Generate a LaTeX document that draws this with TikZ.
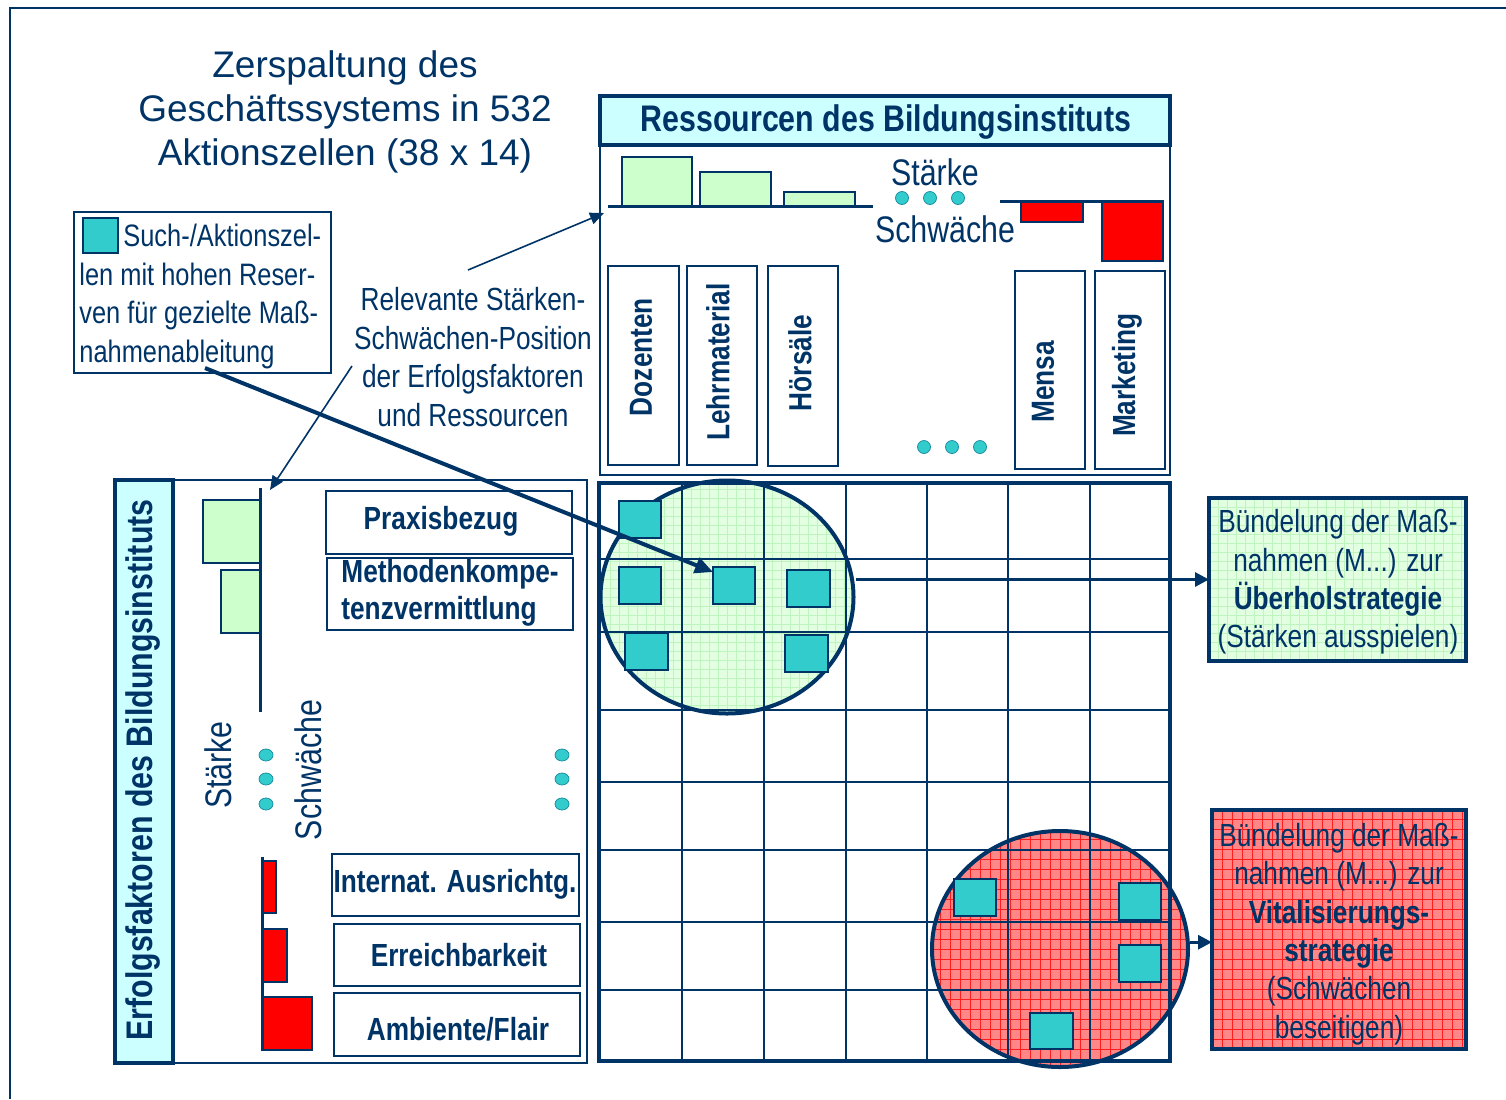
\documentclass[tikz,border=0pt]{standalone}
\usepackage{fontspec}
\setmainfont{Liberation Sans}
\newfontfamily\nf[FakeStretch=0.82]{Liberation Sans}
\usetikzlibrary{arrows.meta,shapes.geometric,fit,calc}
\definecolor{navy}{RGB}{0,51,102}
\definecolor{cyanf}{RGB}{51,204,204}
\definecolor{lgreen}{RGB}{204,255,204}
\definecolor{lcyan}{RGB}{204,255,255}
\definecolor{pgreen}{RGB}{226,255,226}
\definecolor{pgreenl}{RGB}{190,245,190}
\definecolor{pred}{RGB}{255,135,135}
\definecolor{predl}{RGB}{255,30,30}
\newcommand\bgsz{\fontsize{18.5}{22}\selectfont}
\newcommand\smsz{\fontsize{16}{19.2}\selectfont}
\begin{document}
\begin{tikzpicture}[x=0.5pt,y=-0.5pt,
  every node/.style={text=navy},
  fbox/.style={fit={#1}, inner sep=0pt, outer sep=0pt},
  thinbox/.style={draw=navy, line width=0.75pt},
  thickbox/.style={draw=navy, line width=1.8pt},
  bar/.style={draw=navy, line width=0.9pt},
  cellsq/.style={draw=navy, fill=cyanf, line width=0.9pt, inner sep=0pt, outer sep=0pt},
  dotc/.style={draw=navy!40!cyanf, fill=cyanf, line width=0.4pt},
  axis/.style={draw=navy, line width=1.5pt},
  gline/.style={draw=navy, line width=1pt},
  lbl/.style={font=\nf\bfseries\smsz, inner sep=0pt},
  thinarrow/.style={draw=navy, line width=0.8pt, -{Triangle[length=7pt,width=6pt]}},
  midarrow/.style={draw=navy, line width=1.5pt, -{Triangle[length=7pt,width=7pt]}},
  thickarrow/.style={draw=navy, line width=2pt, -{Triangle[length=9pt,width=8pt]}},
  gpat/.style={fill=pgreen, path picture={\draw[pgreenl, line width=0.35pt, step=4.5pt] (path picture bounding box.south west) grid (path picture bounding box.north east);}},
  rpat/.style={fill=pred, path picture={\draw[predl, line width=0.4pt, step=5pt] (path picture bounding box.south west) grid (path picture bounding box.north east);}}
]
\useasboundingbox (0,0) rectangle (1506,1099);
% outer frame
\draw[navy, line width=1.2pt] (1506,8) -- (10,8) -- (10,1099);

% title
\node[align=center, font=\bgsz] (title) at (345,112) {Zerspaltung des\\Geschäftssystems in 532\\Aktionszellen (38 x 14)};

% legend
\node[fbox={(74,212) (331,373)}, thinbox] (legend) {};
\node[fbox={(83,218) (118,253)}, cellsq] (legsq) {};
\node[anchor=north west, align=left, inner sep=0pt, font=\nf\fontsize{15.5}{19.25}\selectfont] (legtxt) at (79,224) {\hspace*{22pt}Such-/Aktionszel-\\len mit hohen Reser-\\ven für gezielte Maß-\\nahmenableitung};

% relevant text
\node[align=center, font=\nf\smsz] (relev) at (473,357) {Relevante Stärken-\\Schwächen-Position\\der Erfolgsfaktoren\\und Ressourcen};

% resources panel
\node[fbox={(600,145) (1170,475)}, thinbox] (respanel) {};
\node[fbox={(600,96) (1170,145)}, thickbox, fill=lcyan] (reshead) {};
\node[font=\nf\bfseries\bgsz, inner sep=0pt] (reshtxt) at (886,122) {Ressourcen des Bildungsinstituts};
\draw[bar, fill=lgreen] (622,157) rectangle (692,206);
\draw[bar, fill=lgreen] (700,172) rectangle (771,206);
\draw[bar, fill=lgreen] (784,192) rectangle (855,206);
\draw[axis] (608,206) -- (873,206);
\draw[bar, fill=red] (1021,201) rectangle (1083,222);
\draw[bar, fill=red] (1102,201) rectangle (1163,261);
\draw[axis] (1000,201) -- (1163,201);
\node[font=\nf\bgsz] (rstark) at (935,172) {Stärke};
\node[font=\nf\bgsz] (rschw) at (945,229) {Schwäche};
\foreach \x in {902,930,958} \draw[dotc] (\x,198) circle [radius=6.5];
\node[fbox={(608,266) (679,465)}, thinbox] (bdoz) {};
\node[lbl, rotate=90] (tdoz) at (641,357) {Dozenten};
\node[fbox={(687,266) (757,465)}, thinbox] (blehr) {};
\node[lbl, rotate=90] (tlehr) at (718,362) {Lehrmaterial};
\node[fbox={(768,266) (838,466)}, thinbox] (bhoer) {};
\node[lbl, rotate=90] (thoer) at (800,363) {Hörsäle};
\node[fbox={(1015,271) (1085,469)}, thinbox] (bmensa) {};
\node[lbl, rotate=90] (tmensa) at (1043,382) {Mensa};
\node[fbox={(1095,271) (1165,469)}, thinbox] (bmark) {};
\node[lbl, rotate=90] (tmark) at (1127,375) {Marketing};
\foreach \x in {924,952,980} \draw[dotc] (\x,447) circle [radius=6.5];

% left panel
\node[fbox={(173,480) (587,1063)}, thinbox] (lpanel) {};
\node[fbox={(115,480) (173,1063)}, thickbox, fill=lcyan] (lhead) {};
\node[rotate=90, font=\nf\bfseries\bgsz, inner sep=0pt] (lheadtxt) at (143,770) {Erfolgsfaktoren des Bildungsinstituts};
\draw[bar, fill=lgreen] (203,500) rectangle (260,563);
\draw[bar, fill=lgreen] (221,570) rectangle (260,633);
\draw[axis] (260,488) -- (260,712);
\node[rotate=90, font=\nf\bgsz, inner sep=0pt] (lstark) at (218,765) {Stärke};
\node[rotate=90, font=\nf\bgsz, inner sep=0pt] (lschw) at (308,770) {Schwäche};
\foreach \y in {755,779,804} {\draw[dotc] (266,\y) ellipse [x radius=7, y radius=6]; \draw[dotc] (562,\y) ellipse [x radius=7, y radius=6];}
\draw[bar, fill=red] (262,861) rectangle (276,913);
\draw[bar, fill=red] (262,929) rectangle (287,982);
\draw[bar, fill=red] (262,997) rectangle (312,1050);
\draw[axis] (262,857) -- (262,1050);
\node[fbox={(326,491) (572,554)}, thinbox] (bprax) {};
\node[lbl] (tprax) at (441,521) {Praxisbezug};
\node[fbox={(327,558) (573,630)}, thinbox] (bmeth) {};
\node[lbl, anchor=west, align=left, font=\nf\bfseries\fontsize{16}{18.5}\selectfont] (tmeth) at (341,593) {Methodenkompe-\\tenzvermittlung};
\node[fbox={(332,854) (579,916)}, thinbox] (bint) {};
\node[lbl] (tint) at (455,884) {Internat. Ausrichtg.};
\node[fbox={(334,924) (580,986)}, thinbox] (berr) {};
\node[lbl] (terr) at (459,955) {Erreichbarkeit};
\node[fbox={(334,993) (580,1056)}, thinbox] (bamb) {};
\node[lbl] (tamb) at (458,1029) {Ambiente/Flair};

% matrix
\node[ellipse, gpat, minimum width=126.5pt, minimum height=116.5pt, inner sep=0pt] (gellfill) at (727,597) {};
\node[ellipse, rpat, minimum width=128pt, minimum height=118pt, inner sep=0pt] (rellfill) at (1060,949) {};
\foreach \x in {682,764,846,927,1008,1090} \draw[gline] (\x,483) -- (\x,1061);
\foreach \y in {559,632,710,782,850,922,990} \draw[gline] (599,\y) -- (1170,\y);
\node[fbox={(599,483) (1170,1061)}, draw=navy, line width=1.8pt] (grid) {};
\node[ellipse, draw=navy, line width=2pt, minimum width=126.5pt, minimum height=116.5pt, inner sep=0pt] (gell) at (727,597) {};
\node[ellipse, draw=navy, line width=2pt, minimum width=128pt, minimum height=118pt, inner sep=0pt] (rell) at (1060,949) {};
\node[fbox={(619,501) (661,538)}, cellsq] (g1) {};
\node[fbox={(619,567) (661,604)}, cellsq] (g2) {};
\node[fbox={(713,567) (755,604)}, cellsq] (g3) {};
\node[fbox={(787,570) (830,607)}, cellsq] (g4) {};
\node[fbox={(625,633) (668,670)}, cellsq] (g5) {};
\node[fbox={(785,635) (828,672)}, cellsq] (g6) {};
\node[fbox={(954,879) (996,916)}, cellsq] (r1) {};
\node[fbox={(1119,883) (1161,920)}, cellsq] (r2) {};
\node[fbox={(1119,945) (1161,982)}, cellsq] (r3) {};
\node[fbox={(1030,1013) (1073,1049)}, cellsq] (r4) {};

% strategy boxes
\node[fbox={(1209,498) (1466,661)}, thickbox, gpat] (gbox) {};
\node[align=center, font=\nf\smsz, inner sep=0pt] (gtxt) at (1338,582) {Bündelung der Maß-\\nahmen (M...) zur\\\textbf{Überholstrategie}\\(Stärken ausspielen)};
\node[fbox={(1212,810) (1466,1049)}, thickbox, rpat] (rbox) {};
\node[align=center, font=\nf\smsz, inner sep=0pt] (rtxt) at (1339,934) {Bündelung der Maß-\\nahmen (M...) zur\\\textbf{Vitalisierungs-}\\\textbf{strategie}\\(Schwächen\\beseitigen)};

% connectors
\coordinate (ra) at (468,270);
\coordinate (ratip) at (604,213);
\coordinate (rb) at (352,366);
\coordinate (rbtip) at (270,490);
\draw[thinarrow] (ra) -- (ratip);
\draw[thinarrow] (rb) -- (rbtip);
\coordinate (lstart) at (205,368);
\draw[thickarrow] (lstart) -- ($(g3.north west)+(0,5)$);
\draw[midarrow] (gell.east |- gbox.west) -- (gbox.west);
\draw[midarrow] (rell.3) -- (rell.3 -| rbox.west);
\end{tikzpicture}
\end{document}
